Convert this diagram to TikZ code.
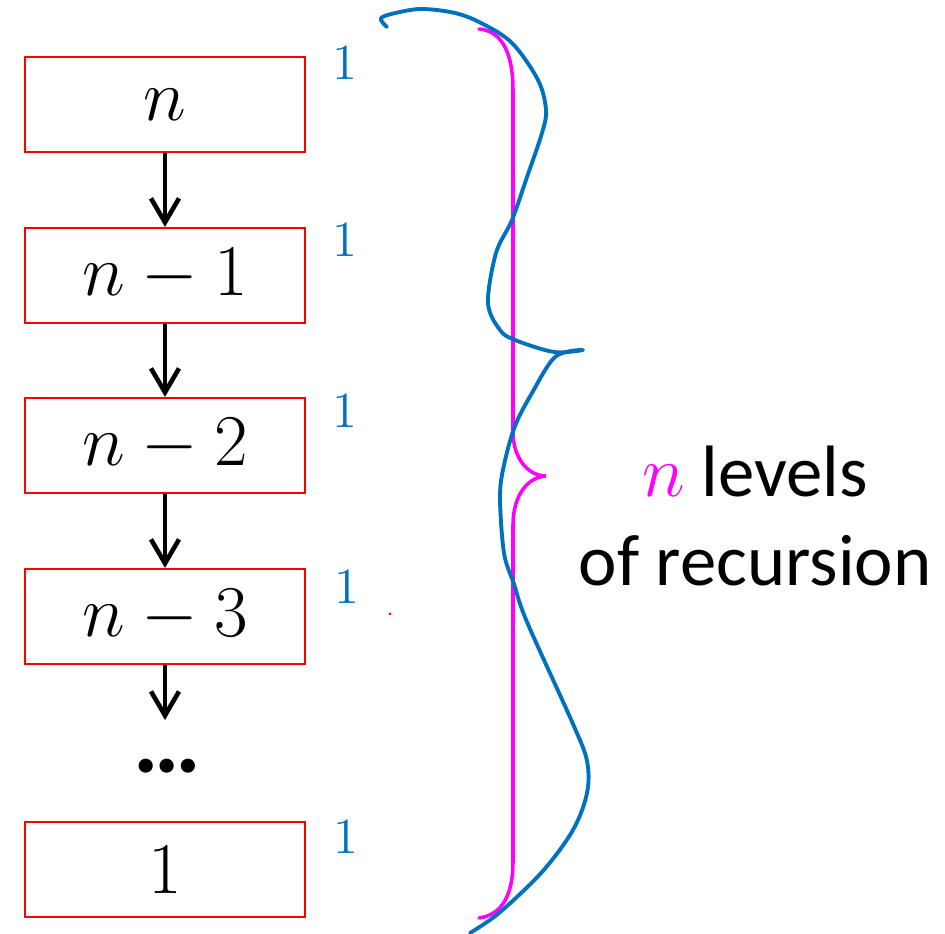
\documentclass[tikz,border=0pt]{standalone}
\usepackage[no-math]{fontspec}
\setmainfont{Carlito}
\usetikzlibrary{arrows.meta}
\definecolor{boxRed}{HTML}{FF0000}
\definecolor{penBlue}{HTML}{0070C0}
\definecolor{braceMag}{HTML}{FF00FF}

\begin{document}
\begin{tikzpicture}[
  x=0.01cm, y=-0.01cm,
  lvl/.style={draw=boxRed, line width=0.6pt, minimum width=2.8cm,
              minimum height=0.95cm, inner sep=0pt,
              font=\fontsize{20.7}{24}\selectfont},
  flow/.style={-{Straight Barb[length=2.4mm,width=2.8mm]}, line width=1.3pt},
  cost/.style={text=penBlue, anchor=base, inner sep=0pt,
               font=\fontsize{14}{16}\selectfont},
  brace/.style={draw=braceMag, line width=1pt, line cap=round},
  scribble/.style={draw=penBlue, line width=1.1pt, line cap=round, line join=round},
  caption/.style={align=center, inner sep=0pt, font=\fontsize{20.7}{25.2}\selectfont},
]
\useasboundingbox (0,0) rectangle (945,934);

% ---------------- NODES (pixel grid) ----------------
\node[lvl] (lvl0) at (165,104.5) {$n$};
\node[lvl] (lvl1) at (165,275.5) {$n-1$};
\node[lvl] (lvl2) at (165,445.5) {$n-2$};
\node[lvl] (lvl3) at (165,616.5) {$n-3$};
\node[font=\bfseries\fontsize{27}{30}\selectfont, inner sep=0pt] (dots) at (167,766) {…};
\node[lvl] (lvlOne) at (165,869.5) {$1$};
\coordinate (gap) at (165,720);

% cost of each call
\node[cost] (c0) at (345,80) {$1$};
\node[cost] (c1) at (345,257) {$1$};
\node[cost] (c2) at (345,428) {$1$};
\node[cost] (c3) at (347,604) {$1$};
\node[cost] (c4) at (346,854) {$1$};

% ---------------- EDGES ----------------
\draw[flow] (lvl0) -- (lvl1);
\draw[flow] (lvl1) -- (lvl2);
\draw[flow] (lvl2) -- (lvl3);
\draw[flow] (lvl3) -- (gap);

% ---------------- BRACE + SCRIBBLE ----------------
\draw[brace] (479,29) .. controls (503,31) and (513,55) .. (513,90)
  -- (513,432) .. controls (513,458) and (528,476) .. (546,476)
  .. controls (528,477) and (513,495) .. (513,525)
  -- (513,862) .. controls (513,895) and (502,915) .. (479,918);

\draw[scribble] plot[smooth, tension=0.55] coordinates {
  (387,27) (381,18) (400,12) (423,9) (455,13) (481,23) (512,43) (538,80)
  (546,110) (542,133) (527,177) (512,220) (496,253) (488,303) (500,330)
  (515,340) (554,352) (583,350)};
\draw[scribble] plot[smooth, tension=0.55] coordinates {
  (581,350) (555,357) (532,393) (515,426) (504,465) (500,497) (504,553)
  (514,584) (527,622) (573,724) (587,761) (587,793) (573,830) (542,872)
  (499,913) (470,933)};

\fill[boxRed] (390,614) circle[radius=0.015cm];

% ---------------- CAPTION ----------------
\node[caption] (levels) at (755,516)
  {\textcolor{braceMag}{$n$} levels\\of recursion};
\end{tikzpicture}
\end{document}
